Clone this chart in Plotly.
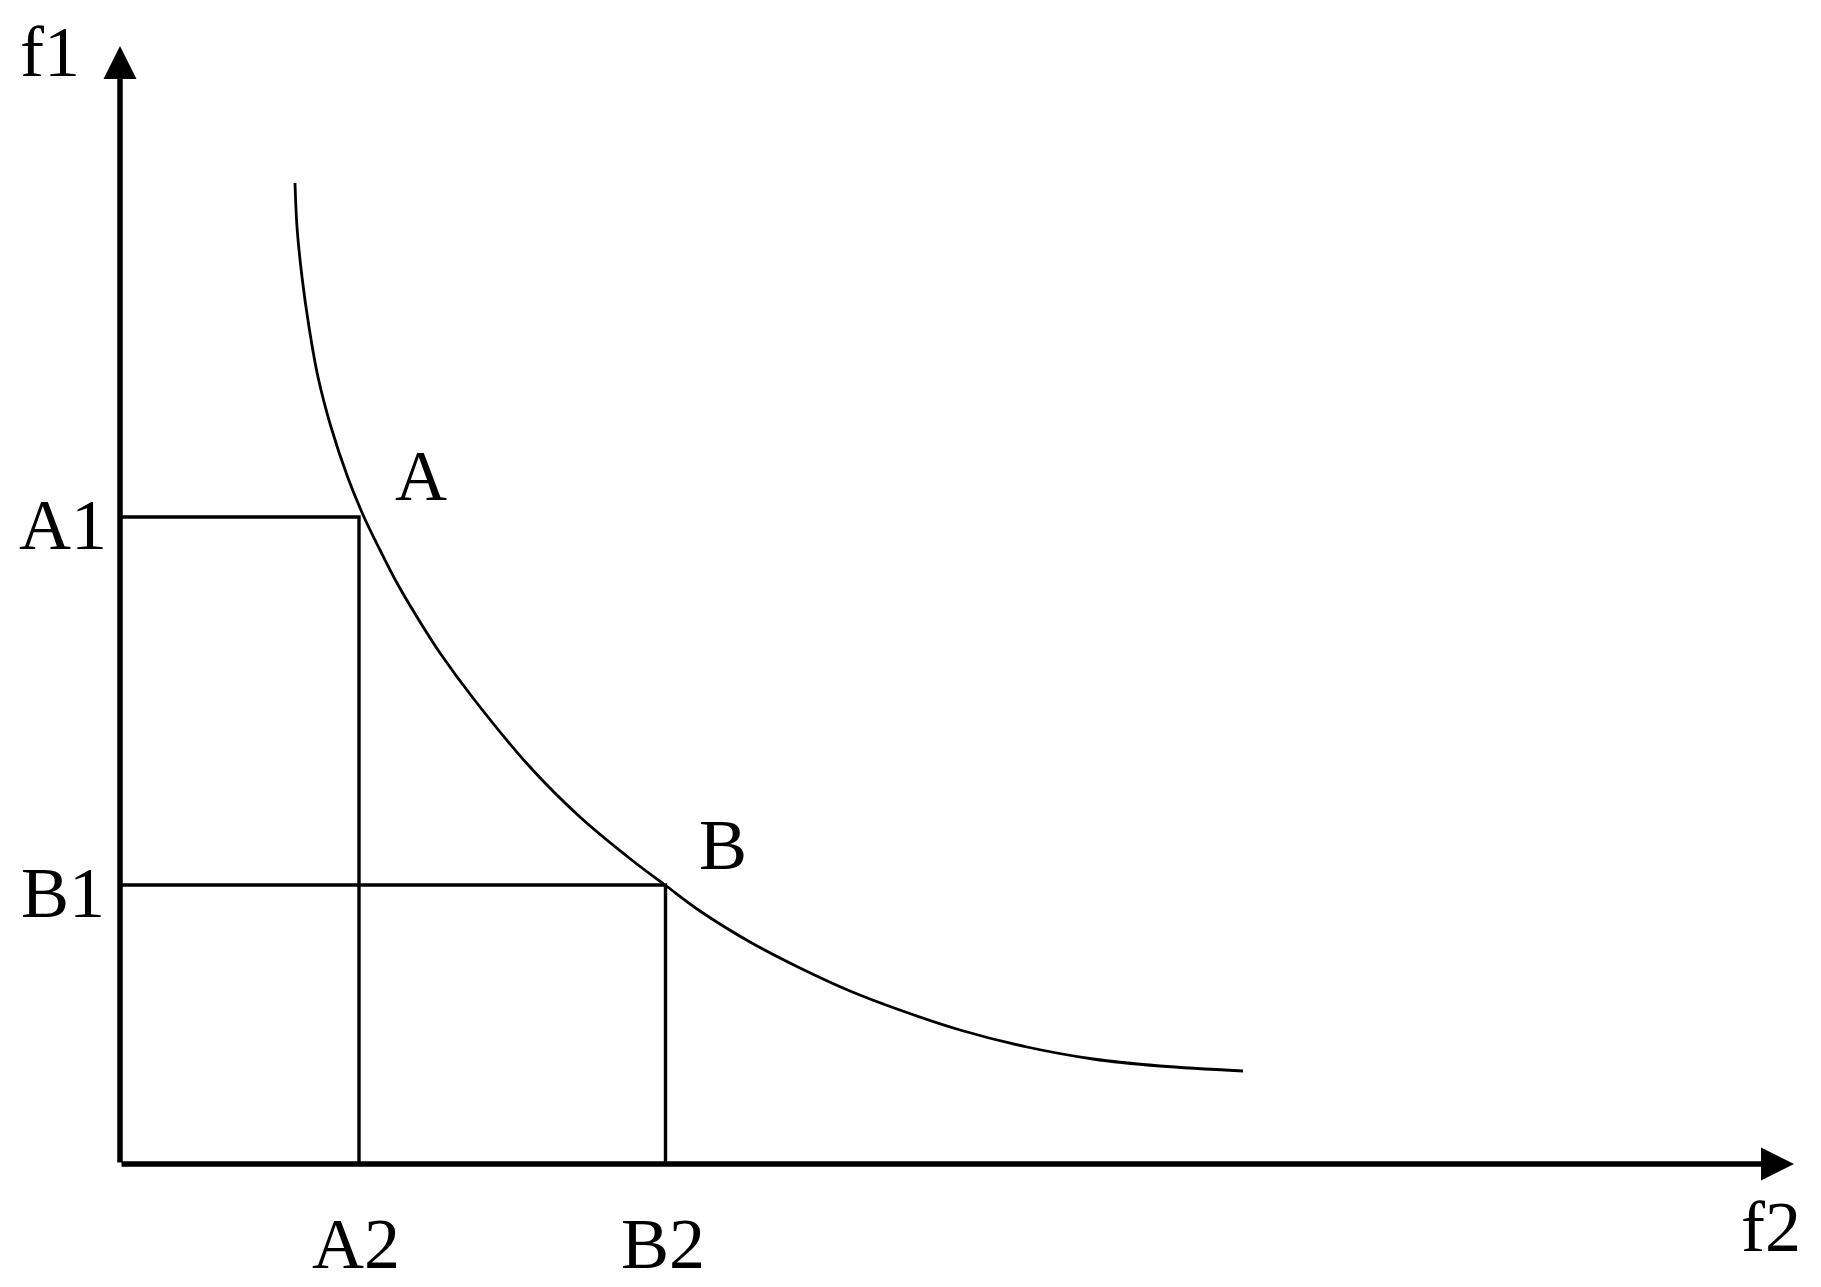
import plotly.graph_objects as go

# Pareto-type front (f2 horizontal, f1 vertical)
curve_f2 = [1.75, 1.77, 1.82, 1.89, 1.98, 2.11, 2.28, 2.44, 2.60, 2.77, 2.97, 3.20,
            3.53, 4.10, 4.60, 5.13, 5.45, 5.80, 6.30, 6.80, 7.30, 7.77, 8.40, 9.07,
            9.73, 10.40, 11.23]
curve_f1 = [9.81, 9.37, 8.87, 8.37, 7.87, 7.37, 6.86, 6.47, 6.14, 5.81, 5.47, 5.11,
            4.66, 3.97, 3.47, 3.03, 2.79, 2.53, 2.22, 1.96, 1.73, 1.55, 1.34, 1.17,
            1.05, 0.98, 0.93]

# marked solutions
point_names = ["A", "B"]
point_f2 = [2.39, 5.455]
point_f1 = [6.47, 2.79]

# axis ends
f2_max = 16.74
f1_max = 11.18

FONT = "Liberation Serif, Times New Roman, serif"
FS = 72

fig = go.Figure()

# the front
fig.add_trace(go.Scatter(
    x=curve_f2, y=curve_f1, mode="lines",
    line=dict(color="black", width=2.8, shape="spline", smoothing=1.0),
    hoverinfo="skip"
))

# projections of A and B onto both axes
for px_, py_ in zip(point_f2, point_f1):
    fig.add_trace(go.Scatter(
        x=[0, px_, px_], y=[py_, py_, 0], mode="lines",
        line=dict(color="black", width=3.4),
        hoverinfo="skip"
    ))

annotations = []

# axes as arrows
for tip in [(f2_max, 0), (0, f1_max)]:
    annotations.append(dict(x=tip[0], y=tip[1], ax=0, ay=0, xref="x", yref="y",
                            axref="x", ayref="y", showarrow=True, text="",
                            arrowhead=2, arrowwidth=5.5, arrowsize=1.2,
                            arrowcolor="black"))

def label(text, x, y):
    annotations.append(dict(x=x, y=y, xref="x", yref="y", text=text,
                            showarrow=False, xanchor="center", yanchor="middle",
                            height=76, valign="middle",
                            font=dict(family=FONT, size=FS, color="black")))

label("f1", -0.70, 11.12)
label("f2", 16.51, -0.63)
label_dx = [0.62, 0.57]
label_dy = [0.41, 0.40]
for name, px_, py_, dx, dy in zip(point_names, point_f2, point_f1, label_dx, label_dy):
    label(name, px_ + dx, py_ + dy)
    label(name + "1", -0.57, py_ - 0.08)
    label(name + "2", px_ - 0.03, -0.80)

fig.update_layout(
    width=1805, height=1271,
    margin=dict(l=0, r=0, t=0, b=0),
    paper_bgcolor="white", plot_bgcolor="white",
    showlegend=False,
    xaxis=dict(range=[-1.12, 16.93], visible=False, fixedrange=True),
    yaxis=dict(range=[-1.15, 11.56], visible=False, fixedrange=True),
    annotations=annotations,
)

fig.write_html("out.html")
